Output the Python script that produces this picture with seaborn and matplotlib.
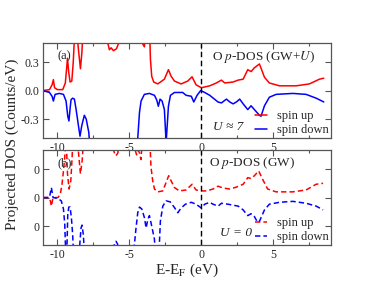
import matplotlib
matplotlib.use("Agg")
import matplotlib.pyplot as plt
import seaborn as sns
from matplotlib.ticker import MultipleLocator

# O p-DOS, GW+U (panel a)
x_up_a = [-11, -10.55, -10.37, -10.28, -10.2, -10.0, -9.63, -9.45, -9.38, -9.3, -9.22, -9.12,
          -9.0, -8.9, -8.82, -8.7, -8.52, -8.4, -8.3, -8.2, -6.6, -6.5, -6.39, -6.27, -6.11,
          -5.9, -5.74, -5.6, -4.2, -4.07, -3.96, -3.84, -3.61, -3.54, -3.45, -3.31, -3.03,
          -2.57, -2.29, -2.1, -1.87, -1.41, -0.95, -0.65, -0.37, 0, 0.58, 1.04, 1.39, 1.62,
          2.2, 2.55, 2.9, 3.22, 3.45, 3.68, 4.03, 4.38, 4.72, 5.42, 6.58, 7.5, 8.2, 8.5]
y_up_a = [0, 0.01, 0.06, 0.115, 0.03, 0.01, 0.01, 0.08, 0.2, 0.34, 0.2, 0.09,
          0.1, 0.3, 0.55, 0.7, 0.4, 0.23, 0.4, 0.7, 0.7, 0.5, 0.43, 0.45, 0.42,
          0.44, 0.5, 0.7, 0.7, 0.49, 0.46, 0.7, 0.7, 0.33, 0.15, 0.09, 0.07,
          0.12, 0.22, 0.15, 0.1, 0.07, 0.1, 0.145, 0.06, 0.03, 0.05, 0.08, 0.11, 0.08,
          0.09, 0.11, 0.12, 0.22, 0.2, 0.24, 0.28, 0.14, 0.08, 0.05, 0.05, 0.07, 0.12, 0.13]

x_dn_a = [-11, -10.55, -10.37, -10.28, -10.16, -9.86, -9.58, -9.4, -9.28, -9.2, -9.1, -9.05,
          -8.94, -8.82, -8.7, -8.52, -8.43, -8.31, -8.13, -8.0, -7.82, -7.7, -4.55, -4.42,
          -4.3, -4.19, -3.96, -3.61, -3.26, -3.1, -2.99, -2.87, -2.73, -2.57, -2.45, -2.29,
          -2.15, -1.87, -1.3, -1.06, -0.7, -0.53, -0.3, -0.05, 0.23, 0.58, 1.15, 1.39, 1.74,
          1.97, 2.2, 2.43, 2.66, 2.9, 3.22, 3.45, 3.68, 4.03, 4.14, 4.38, 4.72, 5.19, 6.35,
          7.27, 7.97, 8.5]
y_dn_a = [0, -0.02, -0.06, -0.11, -0.04, -0.03, -0.04, -0.11, -0.27, -0.32, -0.16, -0.095,
          -0.08, -0.09, -0.2, -0.39, -0.48, -0.37, -0.26, -0.3, -0.44, -0.7, -0.7, -0.5,
          -0.23, -0.11, -0.04, -0.03, -0.05, -0.1, -0.165, -0.09, -0.11, -0.2, -0.55, -0.165,
          -0.05, -0.02, -0.02, -0.05, -0.06, -0.12, -0.05, 0.0, -0.02, -0.05, -0.12, -0.13, -0.09,
          -0.12, -0.14, -0.12, -0.09, -0.14, -0.2, -0.16, -0.2, -0.26, -0.27, -0.16, -0.07, -0.04, -0.03,
          -0.04, -0.08, -0.12]

# O p-DOS, GW (panel b)
x_up_b = [-11, -10.6, -10.49, -10.42, -10.3, -9.96, -9.8, -9.68, -9.58, -9.47, -9.4, -9.3,
          -9.19, -9.07, -8.98, -8.9, -8.65, -8.55, -8.4, -8.28, -8.15, -6.3, -6.1, -6.0, -5.93,
          -5.8, -5.7, -4.7, -4.6, -4.5, -4.4, -4.3, -4.2, -4.05, -3.61, -3.5, -3.38, -3.26,
          -3.03, -2.68, -2.45, -2.27, -2.1, -1.87, -1.53, -1.06, -0.65, -0.37, 0, 0.35, 0.81,
          1.16, 1.5, 1.97, 2.43, 2.9, 3.22, 3.45, 3.68, 3.98, 4.26, 4.6, 5.19, 6.35, 7.27,
          7.97, 8.45]
y_up_b = [0, 0, -0.035, -0.09, 0, 0, 0.035, 0.14, 0.28, 0.46, 0.65, 0.25,
          0.09, 0.175, 0.42, 0.7, 0.7, 0.5, 0.25, 0.39, 0.7, 0.7, 0.5, 0.45, 0.44,
          0.47, 0.7, 0.7, 0.5, 0.45, 0.5, 0.47, 0.4, 0.7, 0.7, 0.32, 0.175, 0.09,
          0.06, 0.07, 0.16, 0.23, 0.175, 0.105, 0.07, 0.08, 0.14, 0.08, 0.07, 0.07, 0.09,
          0.12, 0.1, 0.09, 0.11, 0.14, 0.21, 0.2, 0.23, 0.28, 0.19, 0.09, 0.06, 0.06, 0.08,
          0.14, 0.15]

x_dn_b = [-11, -10.55, -10.49, -10.42, -10.3, -9.96, -9.73, -9.58, -9.49, -9.42, -9.35, -9.28,
          -9.21, -9.12, -9.03, -8.94, -8.88, -8.5, -8.36, -8.29, -8.2, -8.12, -6.15, -6.04,
          -5.93, -5.82, -5.75, -4.72, -4.65, -4.54, -4.42, -4.3, -4.14, -3.96, -3.84, -3.72,
          -3.61, -3.45, -3.26, -3.2, -2.95, -2.85, -2.68, -2.45, -2.17, -1.87, -1.64, -1.41,
          -1.11, -0.7, -0.37, 0, 0.23, 0.58, 0.81, 1.16, 1.39, 1.85, 2.2, 2.55, 2.9, 3.22,
          3.45, 3.68, 3.9, 4.03, 4.38, 4.72, 5.42, 6.35, 7.27, 7.97, 8.45]
y_dn_b = [0, 0, 0.05, 0.105, 0, -0.01, -0.035, -0.12, -0.28, -0.6, -0.6, -0.175,
          -0.1, -0.1, -0.21, -0.39, -0.6, -0.6, -0.32, -0.29, -0.39, -0.6, -0.6, -0.49,
          -0.46, -0.49, -0.6, -0.6, -0.49, -0.32, -0.16, -0.1, -0.12, -0.21, -0.32, -0.23,
          -0.19, -0.3, -0.44, -0.6, -0.6, -0.25, -0.09, -0.035, -0.045, -0.105, -0.16, -0.11,
          -0.07, -0.05, -0.07, -0.11, -0.07, -0.05, -0.07, -0.09, -0.06, -0.07, -0.08, -0.09, -0.13, -0.19,
          -0.17, -0.2, -0.26, -0.25, -0.13, -0.07, -0.05, -0.04, -0.06, -0.09, -0.13]

x_ticks = [-10, -5, 0, 5]
x_labels = ['-10', '-5', '0', '5']

sns.set_style("ticks")
plt.rcParams['font.family'] = ['Liberation Serif', 'DejaVu Serif']
plt.rcParams['mathtext.fontset'] = 'stix'
plt.rcParams['axes.unicode_minus'] = False

fig, (ax1, ax2) = plt.subplots(2, 1, figsize=(3.74, 2.89), dpi=100)
fig.subplots_adjust(left=0.115, right=0.885, top=0.851, bottom=0.152, hspace=0.126)

dash = (0, (3.5, 2))
sns.lineplot(x=x_up_a, y=y_up_a, sort=False, estimator=None, color='red', lw=1.1, label='spin up', ax=ax1)
sns.lineplot(x=x_dn_a, y=y_dn_a, sort=False, estimator=None, color='blue', lw=1.1, label='spin down', ax=ax1)
sns.lineplot(x=x_up_b, y=y_up_b, sort=False, estimator=None, color='red', lw=1.1, linestyle=dash, label='spin up', ax=ax2)
sns.lineplot(x=x_dn_b, y=y_dn_b, sort=False, estimator=None, color='blue', lw=1.1, linestyle=dash, label='spin down', ax=ax2)

for ax in (ax1, ax2):
    ax.axvline(0, color='black', lw=1.0, linestyle=(0, (4, 2.5)))
    ax.set_xticks(x_ticks)
    ax.set_xticklabels(x_labels)
    ax.xaxis.set_minor_locator(MultipleLocator(2.5))
    ax.set_xlim(-11, 9)
    ax.set_ylim(-0.5, 0.5)
    ax.set_yticks([-0.3, 0.0, 0.3])
    ax.tick_params(which='both', direction='in', top=True, right=True, labelsize=8.5,
                   color='#555555', pad=2.5)
    ax.tick_params(which='major', length=4, width=0.8)
    ax.tick_params(which='minor', length=2.5, width=0.8)
    for s in ax.spines.values():
        s.set_color('#555555')
        s.set_linewidth(0.9)
    ax.set_xlabel('')
    ax.set_ylabel('')
    ax.legend(loc='lower right', frameon=False, fontsize=9, handlelength=1.0,
              handletextpad=0.8, labelspacing=0.15, borderaxespad=0.05, borderpad=0.1)

ax1.set_yticklabels(['-0.3', '0.0', '0.3'])
ax2.set_yticklabels(['0', '0', '0'])

ax1.text(0.05, 0.86, '(a)', transform=ax1.transAxes, fontsize=9, ha='left', va='center')
ax2.text(0.05, 0.86, '(b)', transform=ax2.transAxes, fontsize=9, ha='left', va='center')
ax1.text(0.765, 0.85, 'O $p$-DOS (GW+$U$)', transform=ax1.transAxes, fontsize=9.5, ha='center', va='center')
ax2.text(0.725, 0.86, 'O $p$-DOS (GW)', transform=ax2.transAxes, fontsize=9.5, ha='center', va='center')
ax1.text(0.643, 0.12, 'U ≈ 7', transform=ax1.transAxes, fontsize=9.5, style='italic', ha='center', va='center')
ax2.text(0.67, 0.13, 'U = 0', transform=ax2.transAxes, fontsize=9.5, style='italic', ha='center', va='center')

fig.text(0.034, 0.5, 'Projected DOS (Counts/eV)', rotation=90, fontsize=11, ha='center', va='center')
ax2.set_xlabel('E-E$_\\mathrm{F}$ (eV)', fontsize=11, labelpad=1)

fig.savefig('out.png', dpi=100)
